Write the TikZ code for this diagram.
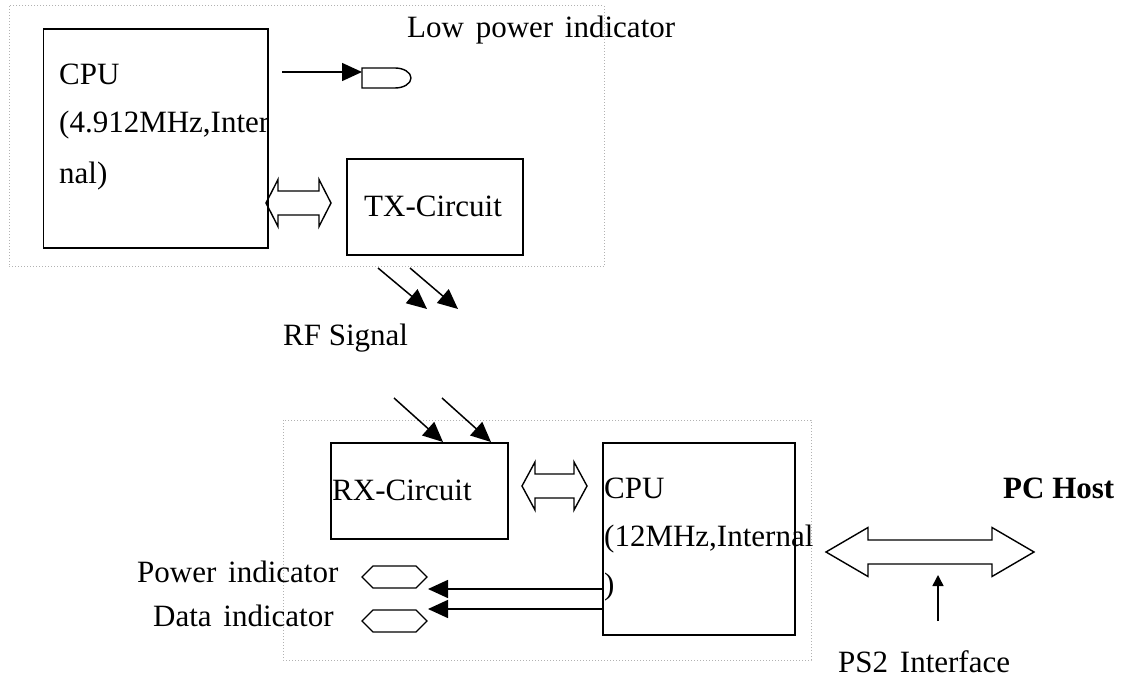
\documentclass[tikz,border=0pt]{standalone}
\usepackage{fontspec}
\setmainfont{Liberation Serif}
\usetikzlibrary{arrows.meta,calc}
\newcommand\wsp{\hspace{4pt}}
\newcommand\dblblock[5]{%
  \draw[blk] (#1) -- ([shift={(#3,-#4)}]#1) -- ([shift={(#3,-#5)}]#1)
    -- ([shift={(-#3,-#5)}]#2) -- ([shift={(-#3,-#4)}]#2) -- (#2)
    -- ([shift={(-#3,#4)}]#2) -- ([shift={(-#3,#5)}]#2)
    -- ([shift={(#3,#5)}]#1) -- ([shift={(#3,#4)}]#1) -- cycle;}
\begin{document}
\begin{tikzpicture}[x=1pt,y=-1pt,
  box/.style={draw,line width=1.6pt,rectangle,inner sep=0,anchor=north west},
  frame/.style={draw=black!30,line width=1pt,dash pattern=on 1pt off 2pt},
  lbl/.style={inner sep=0,anchor=base west,font=\fontsize{31}{37}\selectfont},
  blk/.style={draw,line width=1.4pt,line join=miter},
  conn/.style={line width=1.5pt},
  tri/.style={-{Triangle[length=20pt,width=18pt]}},
  tris/.style={-{Triangle[length=11pt,width=11pt]}}]
\useasboundingbox (0,0) rectangle (1128,679);
% frames
\draw[frame] (9,6) rectangle (604,267);
\draw[frame] (283,420) rectangle (811,660);
% boxes
\node[box,minimum width=224.5pt,minimum height=219pt] (cpu1) at (42.5,28) {};
\node[box,minimum width=176pt,minimum height=96pt] (tx) at (346,158) {};
\node[box,minimum width=177pt,minimum height=96pt] (rx) at (330,442) {};
\node[box,minimum width=192pt,minimum height=192pt] (cpu2) at (602,442) {};
% texts
\node[lbl] (c1a) at (59,85) {CPU};
\node[lbl] (c1b) at (59,133) {(4.912MHz,Inter};
\node[lbl] (c1c) at (59,184) {nal)};
\node[lbl] (lowtxt) at (407,38) {Low\wsp{} power\wsp{} indicator};
\node[lbl] (txt) at (364,217) {TX-Circuit};
\node[lbl] (rftxt) at (283,345) {RF Signal};
\node[lbl] (rxt) at (332,500) {RX-Circuit};
\node[lbl] (c2a) at (604,498) {CPU};
\node[lbl] (c2b) at (604,546) {(12MHz,Internal};
\node[lbl] (c2c) at (604,594) {)};
\node[lbl] (pwrtxt) at (137,582) {Power\wsp{} indicator};
\node[lbl] (dattxt) at (153,626) {Data\wsp{} indicator};
\node[lbl,font=\fontsize{31}{37}\selectfont\bfseries] (pctxt) at (1003,498) {PC Host};
\node[lbl] (ps2txt) at (838,672) {PS2\wsp{} Interface};
% low power indicator lamp
\coordinate (lamp) at (362,68);
\draw[line width=1.4pt] (lamp) -- ++(33,0) arc[start angle=-90,end angle=90,x radius=16,y radius=10] -- ++(-33,0) -- cycle;
\coordinate (lowstart) at (282,72);
\draw[conn,tri] (lowstart) -- (lamp |- lowstart);
% hexagon indicators
\coordinate (pwr) at (394.5,577);
\coordinate (dat) at (394.5,621);
\foreach \c in {pwr,dat}
  \draw[line width=1.4pt] (\c) ++(-32.5,0) -- ++(11,-11) -- ++(43,0) -- ++(11,11) -- ++(-11,11) -- ++(-43,0) -- cycle;
\coordinate (pwrtip) at (428,589);
\coordinate (dattip) at (428,609);
\draw[conn,tri] (cpu2.west |- pwrtip) -- (pwrtip);
\draw[conn,tri] (cpu2.west |- dattip) -- (dattip);
% block double arrows
\coordinate (t1) at (266,203); \coordinate (t2) at (331,203);
\dblblock{t1}{t2}{12}{23.5}{12}
\coordinate (r1) at (522,486); \coordinate (r2) at (587,486);
\dblblock{r1}{r2}{13}{24}{12}
\coordinate (p1) at (826,552); \coordinate (p2) at (1034,552);
\dblblock{p1}{p2}{42}{24.5}{12}
% PS2 arrow
\coordinate (ps2s) at (938,621); \coordinate (ps2e) at (938,575);
\draw[conn,tris] (ps2s) -- (ps2e);
% RF arrows
\coordinate (rfa1) at (378,268); \coordinate (rfa2) at (427,309);
\coordinate (rfb1) at (410,268); \coordinate (rfb2) at (458,309);
\draw[conn,tri] (rfa1) -- (rfa2);
\draw[conn,tri] (rfb1) -- (rfb2);
\coordinate (rfc1) at (394,398); \coordinate (rfd1) at (442,398);
\draw[conn,tri] (rfc1) -- (rx.north west -| 443,0);
\draw[conn,tri] (rfd1) -- (rx.north west -| 491,0);
\end{tikzpicture}
\end{document}
